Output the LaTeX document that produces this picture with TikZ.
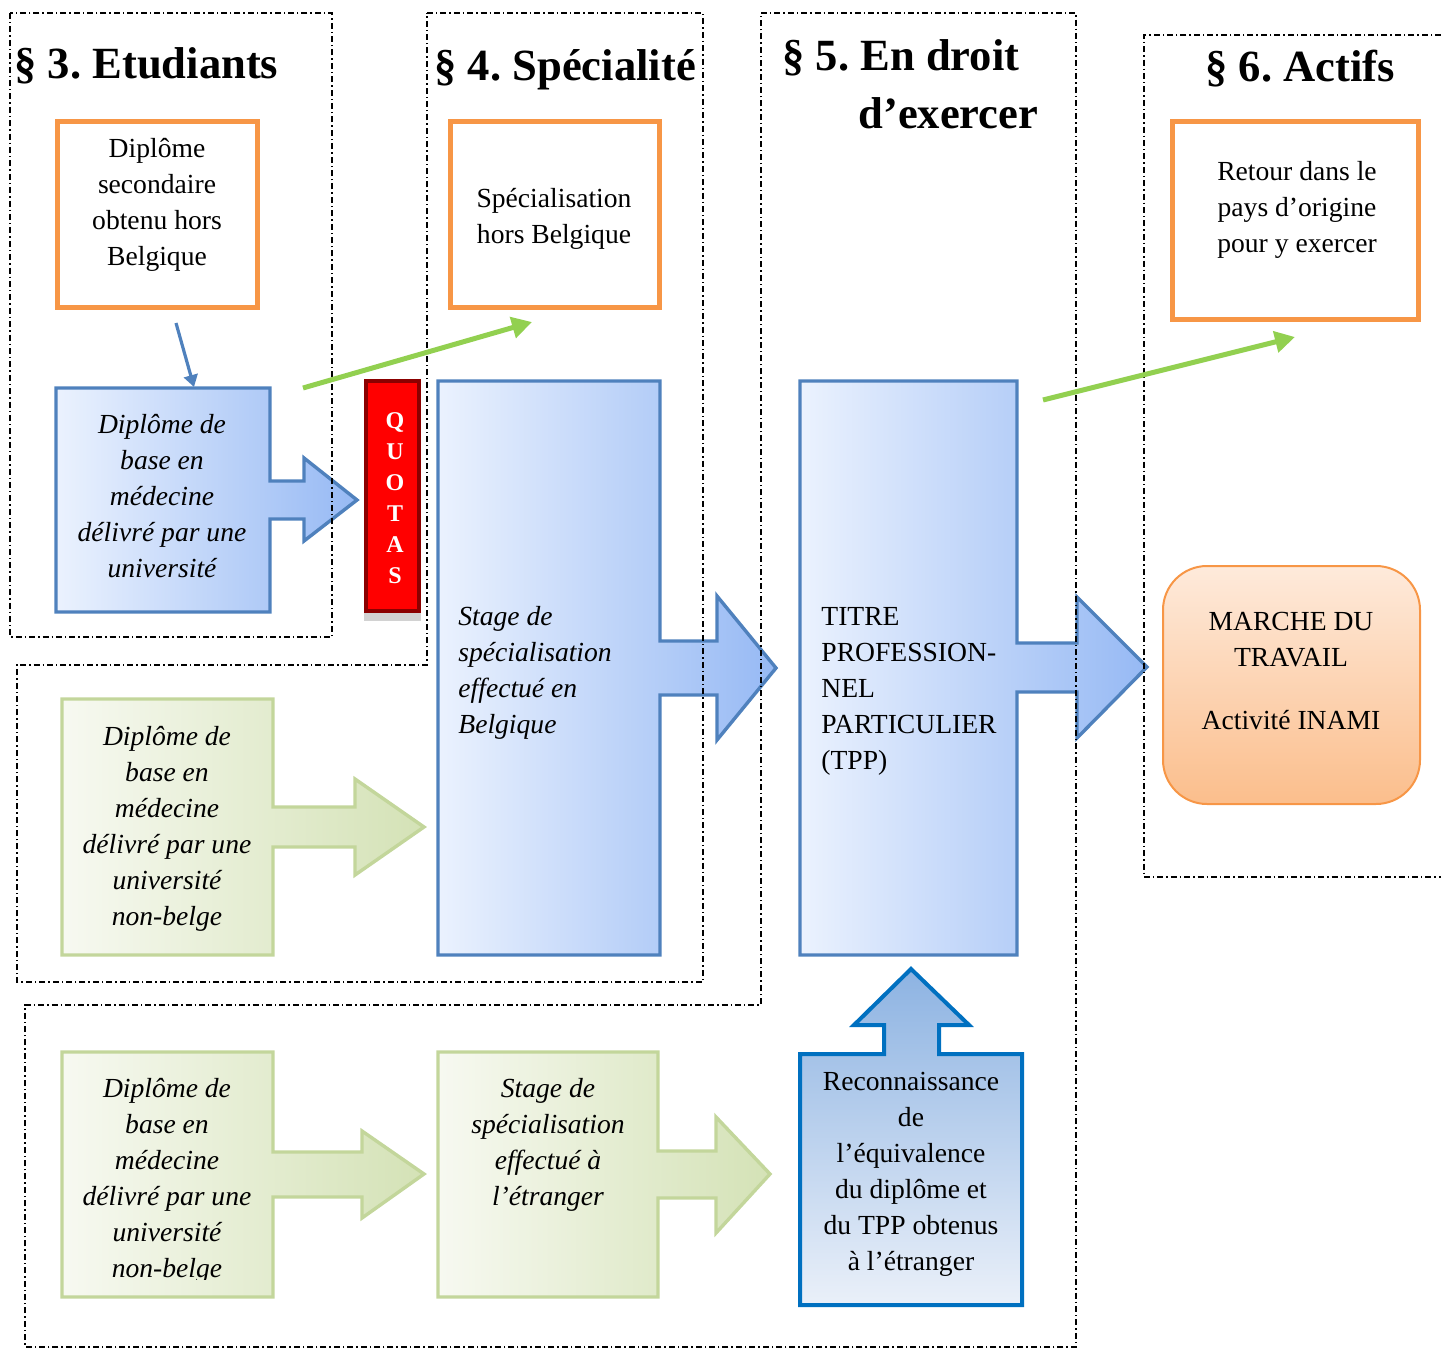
\documentclass[tikz,border=0pt]{standalone}
\usepackage{fontspec}
\setmainfont{Liberation Serif}
\usetikzlibrary{arrows.meta}
\definecolor{orangeB}{HTML}{F79646}
\definecolor{blueB}{HTML}{4F81BD}
\definecolor{blueL}{HTML}{EBF2FE}
\definecolor{blueR}{HTML}{96B9F4}
\definecolor{greenB}{HTML}{C3D69B}
\definecolor{greenL}{HTML}{F7F9F1}
\definecolor{greenR}{HTML}{D4E2B6}
\definecolor{arrowGreen}{HTML}{92D050}
\definecolor{recB}{HTML}{0070C0}
\definecolor{recT}{HTML}{8DB3E2}
\definecolor{recBot}{HTML}{EAF0F9}
\definecolor{mT}{HTML}{FEEADB}
\definecolor{mB}{HTML}{FBBE8C}
\definecolor{quotaB}{HTML}{8B0000}
\frenchspacing
\begin{document}
\begin{tikzpicture}[x=0.5pt,y=-0.5pt,
  frame/.style={line width=0.85pt, dash pattern=on 3pt off 1.5pt on 0.7pt off 1.5pt},
  orangebox/.style={draw=orangeB, line width=2.5pt, rectangle, inner sep=0pt},
  bluesh/.style={draw=blueB, line width=1.7pt, left color=blueL, right color=blueR},
  greensh/.style={draw=greenB, line width=1.7pt, left color=greenL, right color=greenR},
  body/.style={font=\fontsize{13.8}{18}\selectfont, align=center, inner sep=0pt, anchor=base},
  ibody/.style={body, font=\fontsize{13.8}{18}\selectfont\itshape},
  title/.style={font=\fontsize{22.3}{28.5}\selectfont\bfseries, inner sep=0pt, anchor=base west},
  greenline/.style={draw=arrowGreen, line width=2.5pt, -{Triangle[length=10pt,width=10.5pt]}},
  blueline/.style={draw=blueB, line width=1.6pt, -{Triangle[length=6pt,width=7pt]}},
]
\useasboundingbox (0,0) rectangle (1441,1349);

% orange boxes
\node[orangebox, minimum width=100pt, minimum height=93pt] (secA) at (157.5,214.5) {};
\node[orangebox, minimum width=104.5pt, minimum height=93pt] (secB) at (555,214.5) {};
\node[orangebox, minimum width=123pt, minimum height=99pt] (secC) at (1295.5,220.5) {};

% blue arrow shapes
\path[bluesh] (56,388) -- (270,388) -- (270,481) -- (304,481) -- (304,458) -- (357,500)
  -- (304,541) -- (304,519) -- (270,519) -- (270,612) -- (56,612) -- cycle;
\path[bluesh] (438,381) -- (660,381) -- (660,641) -- (717,641) -- (717,596) -- (776,668)
  -- (717,740) -- (717,695) -- (660,695) -- (660,955) -- (438,955) -- cycle;
\path[bluesh] (800,381) -- (1017,381) -- (1017,643) -- (1077,643) -- (1077,597) -- (1147,667)
  -- (1077,738) -- (1077,692) -- (1017,692) -- (1017,955) -- (800,955) -- cycle;

% green arrow shapes
\path[greensh] (62,699) -- (273,699) -- (273,807) -- (355,807) -- (355,779) -- (424,827)
  -- (355,875) -- (355,847) -- (273,847) -- (273,955) -- (62,955) -- cycle;
\path[greensh] (62,1052) -- (273,1052) -- (273,1152) -- (362,1152) -- (362,1131) -- (424,1174)
  -- (362,1218) -- (362,1197) -- (273,1197) -- (273,1297) -- (62,1297) -- cycle;
\path[greensh] (438,1052) -- (658,1052) -- (658,1151) -- (716,1151) -- (716,1117) -- (770,1174)
  -- (716,1233) -- (716,1198) -- (658,1198) -- (658,1297) -- (438,1297) -- cycle;

% reconnaissance (up arrow callout)
\path[draw=recB, line width=2pt, top color=recT, bottom color=recBot]
  (800,1054) -- (884,1054) -- (884,1025) -- (854,1025) -- (911,969) -- (969,1025)
  -- (939,1025) -- (939,1054) -- (1022,1054) -- (1022,1305) -- (800,1305) -- cycle;

% marche du travail
\node[draw=orangeB, line width=1pt, rounded corners=22pt, top color=mT, bottom color=mB,
  minimum width=128.5pt, minimum height=119pt, inner sep=0pt] (marche) at (1291.5,685) {};

% quotas
\fill[gray!35] (364,606) rectangle (421,621);
\node[fill=red, draw=quotaB, line width=2pt, minimum width=26.5pt, minimum height=115pt,
  inner sep=0pt] (quotas) at (392.5,496) {};
\node[font=\fontsize{12}{15.5}\selectfont\bfseries, text=white, align=center, inner sep=0pt,
  anchor=base] (quotastext) at (395,583) {Q\\U\\O\\T\\A\\S};

% frames
\draw[frame] (10,13) rectangle (332,637);
\draw[frame] (427,13) -- (703,13) -- (703,982) -- (17,982) -- (17,665) -- (427,665) -- cycle;
\draw[frame] (761,13) -- (1076,13) -- (1076,1347) -- (25,1347) -- (25,1005) -- (761,1005) -- cycle;
\draw[frame] (1441,35) -- (1144,35) -- (1144,877) -- (1441,877);

% titles
\node[title] (t3) at (14,78) {§ 3. Etudiants};
\node[title] (t4) at (434,80) {§ 4. Spécialité};
\node[title] (t5a) at (782,70) {§ 5. En droit};
\node[title] (t5b) at (858,128) {d’exercer};
\node[title] (t6) at (1205,81) {§ 6. Actifs};

% texts (base anchor = baseline of the last line)
\node[body] (txA) at (157,265) {Diplôme\\secondaire\\obtenu hors\\Belgique};
\node[body] (txB) at (554,243) {Spécialisation\\hors Belgique};
\node[body] (txC) at (1297,252) {Retour dans le\\pays d’origine\\pour y exercer};
\node[ibody] (tx1) at (162,577) {Diplôme de\\base en\\médecine\\délivré par une\\université};
\node[ibody, align=left, anchor=base west] (tx2) at (458,733) {Stage de\\spécialisation\\effectué en\\Belgique};
\node[body, align=left, anchor=base west] (tx3) at (821,769) {TITRE\\PROFESSION-\\NEL\\PARTICULIER\\(TPP)};
\node[body] (tx4) at (1291,729) {MARCHE DU\\TRAVAIL\\[13.5pt]Activité INAMI};
\node[ibody] (tx5) at (167,925) {Diplôme de\\base en\\médecine\\délivré par une\\université\\non-belge};
\begin{scope}
\clip (62,1052) rectangle (273,1279);
\node[ibody] (tx6) at (167,1277) {Diplôme de\\base en\\médecine\\délivré par une\\université\\non-belge};
\end{scope}
\node[ibody] (tx7) at (548,1205) {Stage de\\spécialisation\\effectué à\\l’étranger};
\node[body] (tx8) at (911,1270) {Reconnaissance\\de\\l’équivalence\\du diplôme et\\du TPP obtenus\\à l’étranger};

% connectors
\coordinate (b1s) at (176,323);
\coordinate (b1e) at (194,387);
\draw[blueline] (b1s) -- (b1e);
\coordinate (g1s) at (303,388);
\coordinate (g1e) at (532,322);
\draw[greenline] (g1s) -- (g1e);
\coordinate (g2s) at (1043,400);
\coordinate (g2e) at (1295,337);
\draw[greenline] (g2s) -- (g2e);
\end{tikzpicture}
\end{document}
